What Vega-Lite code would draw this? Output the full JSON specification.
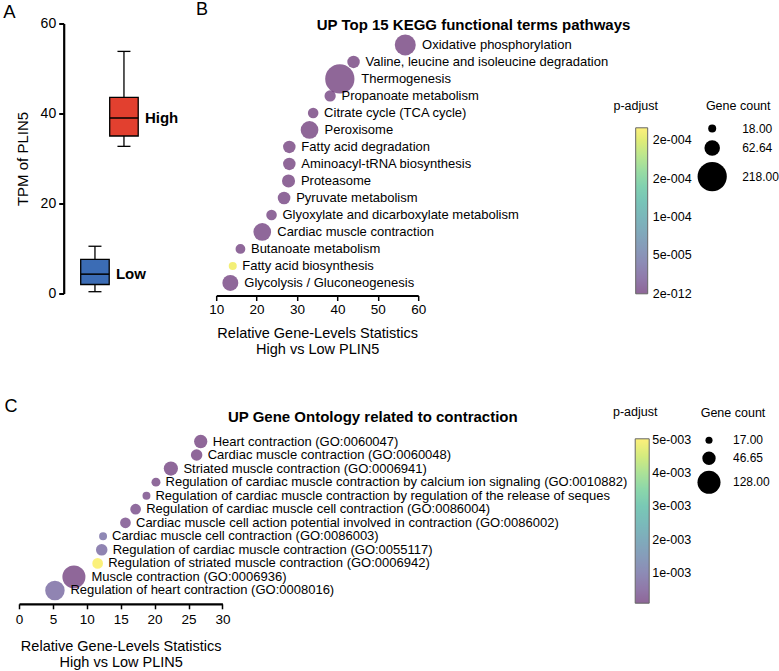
{
  "$schema": "https://vega.github.io/schema/vega-lite/v6.json",
  "padding": {"left": 2, "top": 0.5, "right": 0, "bottom": 0},
  "background": "white",
  "config": {
    "font": "Liberation Sans",
    "view": {"stroke": null},
    "axis": {"grid": false, "domainColor": "black", "tickColor": "black", "labelColor": "black", "titleColor": "black", "labelFont": "Liberation Sans", "titleFont": "Liberation Sans", "titleFontWeight": "normal", "labelFontSize": 13.5, "titleFontSize": 14.5, "labelFlush": false, "labelOverlap": false},
    "legend": {"titleFont": "Liberation Sans", "labelFont": "Liberation Sans", "titleFontWeight": "normal", "titleColor": "black", "labelColor": "black", "titleFontSize": 12.5, "labelFontSize": 12.5, "padding": 0, "labelOverlap": false},
    "text": {"font": "Liberation Sans"}
  },
  "datasets": {
    "box": [
      {"group": "Low", "min": 0.4, "q1": 2.0, "median": 4.3, "q3": 7.6, "max": 10.5},
      {"group": "High", "min": 32.7, "q1": 35.0, "median": 39.0, "q3": 43.6, "max": 53.8}
    ],
    "kegg": [
      {"term": "Oxidative phosphorylation", "stat": 56.8, "count": 113, "padj": 1e-11},
      {"term": "Valine, leucine and isoleucine degradation", "stat": 44.0, "count": 41, "padj": 2e-8},
      {"term": "Thermogenesis", "stat": 40.6, "count": 218, "padj": 1e-10},
      {"term": "Propanoate metabolism", "stat": 38.2, "count": 34, "padj": 1e-6},
      {"term": "Citrate cycle (TCA cycle)", "stat": 34.0, "count": 30, "padj": 1e-7},
      {"term": "Peroxisome", "stat": 33.1, "count": 81, "padj": 1e-8},
      {"term": "Fatty acid degradation", "stat": 28.1, "count": 41, "padj": 1e-7},
      {"term": "Aminoacyl-tRNA biosynthesis", "stat": 28.1, "count": 41, "padj": 1e-7},
      {"term": "Proteasome", "stat": 27.9, "count": 45, "padj": 1e-7},
      {"term": "Pyruvate metabolism", "stat": 26.8, "count": 42, "padj": 1e-6},
      {"term": "Glyoxylate and dicarboxylate metabolism", "stat": 23.7, "count": 30, "padj": 1e-6},
      {"term": "Cardiac muscle contraction", "stat": 21.4, "count": 81, "padj": 1e-6},
      {"term": "Butanoate metabolism", "stat": 16.0, "count": 26, "padj": 1e-6},
      {"term": "Fatty acid biosynthesis", "stat": 14.1, "count": 18, "padj": 0.00021},
      {"term": "Glycolysis / Gluconeogenesis", "stat": 13.5, "count": 66, "padj": 1e-6}
    ],
    "go": [
      {"term": "Heart contraction (GO:0060047)", "stat": 26.8, "count": 46, "padj": 0.0001},
      {"term": "Cardiac muscle contraction (GO:0060048)", "stat": 26.2, "count": 36, "padj": 0.0001},
      {"term": "Striated muscle contraction (GO:0006941)", "stat": 22.4, "count": 52, "padj": 0.00012},
      {"term": "Regulation of cardiac muscle contraction by calcium ion signaling (GO:0010882)", "stat": 20.2, "count": 24, "padj": 0.00015},
      {"term": "Regulation of cardiac muscle contraction by regulation of the release of seques", "stat": 18.8, "count": 20, "padj": 0.0002},
      {"term": "Regulation of cardiac muscle cell contraction (GO:0086004)", "stat": 17.2, "count": 32, "padj": 0.0002},
      {"term": "Cardiac muscle cell action potential involved in contraction (GO:0086002)", "stat": 15.7, "count": 32, "padj": 0.00025},
      {"term": "Cardiac muscle cell contraction (GO:0086003)", "stat": 12.4, "count": 20, "padj": 0.0009},
      {"term": "Regulation of cardiac muscle contraction (GO:0055117)", "stat": 12.2, "count": 36, "padj": 0.0008},
      {"term": "Regulation of striated muscle contraction (GO:0006942)", "stat": 11.6, "count": 32, "padj": 0.005},
      {"term": "Muscle contraction (GO:0006936)", "stat": 8.1, "count": 128, "padj": 0.0001},
      {"term": "Regulation of heart contraction (GO:0008016)", "stat": 5.3, "count": 93, "padj": 0.0008}
    ]
  },
  "bounds": "flush",
  "spacing": 404.7,
  "resolve": {"scale": {"color": "independent", "size": "independent"}, "legend": {"color": "independent", "size": "independent"}},
  "vconcat": [
    {
      "bounds": "flush",
      "spacing": 52.2,
      "resolve": {"scale": {"color": "independent", "size": "independent"}, "legend": {"color": "independent", "size": "independent"}},
      "hconcat": [
        {
          "width": 144.5,
          "height": 270,
          "data": {"name": "box"},
          "encoding": {
            "x": {"field": "group", "type": "nominal", "sort": null,
              "scale": {"domain": ["_", "Low", "High"], "paddingInner": 0.017, "paddingOuter": 1, "align": 0.564},
              "axis": {"orient": "top", "labels": false, "ticks": false, "domain": false, "title": "A", "titleX": -16.3, "titleY": -21, "titleBaseline": "top", "titleAlign": "left", "titleAngle": 0, "titleFontSize": 18.5}}
          },
          "layer": [
            {
              "mark": {"type": "rule", "color": "black", "strokeWidth": 1.3},
              "encoding": {
                "y": {"field": "min", "type": "quantitative", "scale": {"domain": [0, 60], "nice": false},
                  "axis": {"orient": "left", "offset": -44.7, "values": [0, 20, 40, 60], "domainWidth": 2.2, "tickWidth": 2, "tickSize": 5, "labelFontSize": 14, "labelPadding": 3, "title": "TPM of PLIN5", "titleFontSize": 15, "titlePadding": 10}},
                "y2": {"field": "max"}
              }
            },
            {
              "mark": {"type": "bar", "stroke": "black", "strokeWidth": 1.3},
              "encoding": {
                "y": {"field": "q1", "type": "quantitative"},
                "y2": {"field": "q3"},
                "color": {"field": "group", "type": "nominal", "scale": {"domain": ["Low", "High"], "range": ["#3b6cb5", "#e2402f"]}, "legend": null}
              }
            },
            {
              "mark": {"type": "tick", "color": "black", "size": 28.5, "thickness": 1.5, "opacity": 1},
              "encoding": {"y": {"field": "median", "type": "quantitative"}}
            },
            {
              "mark": {"type": "tick", "color": "black", "size": 13, "thickness": 1.3, "opacity": 1},
              "encoding": {"y": {"field": "min", "type": "quantitative"}}
            },
            {
              "mark": {"type": "tick", "color": "black", "size": 13, "thickness": 1.3, "opacity": 1},
              "encoding": {"y": {"field": "max", "type": "quantitative"}}
            },
            {
              "mark": {"type": "text", "align": "left", "baseline": "middle", "dx": 21, "fontSize": 15, "fontWeight": "bold", "color": "black"},
              "encoding": {"y": {"field": "median", "type": "quantitative"}, "text": {"field": "group"}}
            }
          ]
        },
        {
          "width": 202,
          "height": 272,
          "data": {"name": "kegg"},
          "encoding": {
            "y": {"field": "term", "type": "nominal", "sort": null,
              "scale": {"type": "point", "padding": 1.561, "align": 0.631},
              "axis": {"title": "B", "labels": false, "ticks": false, "domain": false, "titleAngle": 0, "titleX": -20.7, "titleY": -22.6, "titleBaseline": "top", "titleAlign": "left", "titleFontSize": 18}}
          },
          "layer": [
            {
              "mark": {"type": "circle", "opacity": 0.6},
              "encoding": {
                "x": {"field": "stat", "type": "quantitative", "scale": {"domain": [10, 60], "nice": false, "zero": false},
                  "axis": {"orient": "bottom", "values": [10, 20, 30, 40, 50, 60], "domainWidth": 2.2, "tickWidth": 1.5, "tickSize": 5, "labelPadding": 2, "title": ["Relative Gene-Levels Statistics", "High vs Low PLIN5"], "titlePadding": 10, "titleLineHeight": 16.5}},
                "size": {"field": "count", "type": "quantitative", "scale": {"domain": [18, 218], "range": [64, 855]},
                  "legend": {"orient": "none", "legendX": 481, "legendY": 76.6, "title": "Gene count", "titleAnchor": "middle", "titlePadding": 10, "values": [18, 62.64, 218], "labelExpr": "format(datum.value, '.2f')", "labelFontSize": 12, "symbolFillColor": "black", "symbolStrokeWidth": 0, "symbolOpacity": 1, "labelOffset": 15, "rowPadding": 5.5}},
                "color": {"field": "padj", "type": "quantitative", "scale": {"scheme": "viridis", "domain": [0, 0.0002165]},
                  "legend": {"orient": "none", "legendX": 397.5, "legendY": 76.6, "direction": "vertical", "title": "p-adjust", "titleAnchor": "start", "titleAlign": "center", "titlePadding": 15.2, "gradientLength": 166, "gradientThickness": 12, "gradientStrokeColor": "black", "gradientStrokeWidth": 1, "labelOffset": 5, "values": [1e-9, 0.00005, 0.0001, 0.00015, 0.0002], "labelExpr": "datum.value < 1e-6 ? '2e-012' : datum.value < 7e-5 ? '5e-005' : datum.value < 1.2e-4 ? '1e-004' : '2e-004'",
                    "encode": {"gradient": {"update": {"fillOpacity": {"value": 0.6}}}}}}
              }
            },
            {
              "transform": [{"calculate": "datum.stat + (sqrt((64 + (datum.count - 18) * 3.955) / PI) + 5) / 4.04", "as": "labelX"}],
              "mark": {"type": "text", "align": "left", "baseline": "middle", "fontSize": 13, "color": "black"},
              "encoding": {
                "x": {"field": "labelX", "type": "quantitative", "scale": {"domain": [10, 60], "nice": false, "zero": false},
                  "axis": {"orient": "top", "labels": false, "ticks": false, "domain": false, "title": "UP Top 15 KEGG functional terms pathways", "titleX": 100, "titleY": -5.8, "titleBaseline": "top", "titleAlign": "left", "titleAnchor": "start", "titleFontWeight": "bold", "titleFontSize": 15}},
                "text": {"field": "term"}
              }
            }
          ],
          "resolve": {"axis": {"x": "independent"}}
        }
      ]
    },
    {
      "width": 203.4,
      "height": 175.6,
      "data": {"name": "go"},
      "encoding": {
        "y": {"field": "term", "type": "nominal", "sort": null,
          "scale": {"type": "point", "padding": 0.982, "align": 0.5},
          "axis": {"title": "C", "labels": false, "ticks": false, "domain": false, "titleAngle": 0, "titleX": -15, "titleY": -31, "titleBaseline": "top", "titleAlign": "left", "titleFontSize": 18}}
      },
      "layer": [
        {
          "mark": {"type": "circle", "opacity": 0.6},
          "encoding": {
            "x": {"field": "stat", "type": "quantitative", "scale": {"domain": [0, 30], "nice": false},
              "axis": {"orient": "bottom", "values": [0, 5, 10, 15, 20, 25, 30], "domainWidth": 2.2, "tickWidth": 1.5, "tickSize": 5, "labelPadding": 4, "title": ["Relative Gene-Levels Statistics", "High vs Low PLIN5"], "titlePadding": 13, "titleLineHeight": 16.5}},
            "size": {"field": "count", "type": "quantitative", "scale": {"domain": [17, 128], "range": [50, 531]},
              "legend": {"orient": "none", "legendX": 678, "legendY": -21.4, "title": "Gene count", "titleAnchor": "middle", "titlePadding": 15, "values": [17, 46.65, 128], "labelExpr": "format(datum.value, '.2f')", "labelFontSize": 12, "symbolFillColor": "black", "symbolStrokeWidth": 0, "symbolOpacity": 1, "labelOffset": 12, "rowPadding": 5}},
            "color": {"field": "padj", "type": "quantitative", "scale": {"scheme": "viridis", "domain": [0.00009, 0.00503]},
              "legend": {"orient": "none", "legendX": 594.2, "legendY": -22.1, "direction": "vertical", "title": "p-adjust", "titleAnchor": "start", "titleAlign": "center", "titlePadding": 20.2, "gradientLength": 164.4, "gradientThickness": 14, "gradientStrokeColor": "black", "gradientStrokeWidth": 1, "labelOffset": 3, "values": [0.001, 0.002, 0.003, 0.004, 0.005], "labelExpr": "format(datum.value * 1000, '.0f') + 'e-003'",
                "encode": {"gradient": {"update": {"fillOpacity": {"value": 0.6}}}}}}
          }
        },
        {
          "transform": [{"calculate": "datum.stat + (sqrt((50 + (datum.count - 17) * 4.333) / PI) + 4.5) / 6.78", "as": "labelX"}],
          "mark": {"type": "text", "align": "left", "baseline": "middle", "fontSize": 13, "color": "black"},
          "encoding": {
            "x": {"field": "labelX", "type": "quantitative", "scale": {"domain": [0, 30], "nice": false},
              "axis": {"orient": "top", "labels": false, "ticks": false, "domain": false, "title": "UP Gene Ontology related to contraction", "titleX": 208.4, "titleY": -18.8, "titleBaseline": "top", "titleAlign": "left", "titleAnchor": "start", "titleFontWeight": "bold", "titleFontSize": 15}},
            "text": {"field": "term"}
          }
        }
      ],
      "resolve": {"axis": {"x": "independent"}}
    }
  ]
}
